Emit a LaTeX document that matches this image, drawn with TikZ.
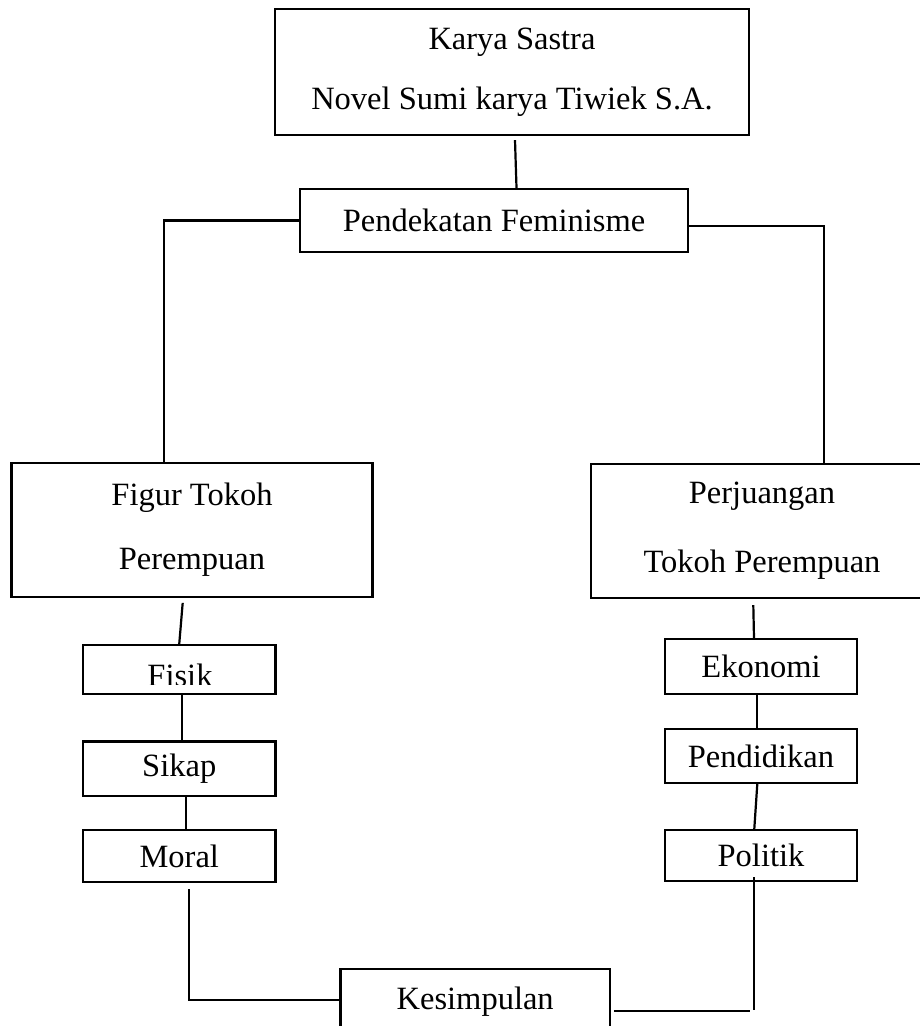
\documentclass[tikz,border=0pt]{standalone}
\usepackage{fontspec}
\setmainfont{Liberation Serif}
\begin{document}
\begin{tikzpicture}[x=1pt, y=-1pt, font=\fontsize{32.5}{60}\selectfont,
    kotak/.style={draw, line width=2.3pt, inner sep=0pt, align=center},
    garis/.style={line width=2.2pt}]
            \useasboundingbox (0, 0) rectangle (920, 1026);
            % kotak-kotak
            \node[kotak, minimum width=474pt, minimum height=126pt] (karya) at (512, 72) {Karya Sastra\\Novel Sumi karya Tiwiek S.A.};
            \node[kotak, minimum width=388pt, minimum height=63pt] (pendekatan) at (494, 220.5) {Pendekatan Feminisme};
            \node[kotak, minimum width=361pt, minimum height=134pt] (figur) at (192, 530) {Figur Tokoh\\[4pt]Perempuan};
            \node[kotak, minimum width=342pt, minimum height=134pt] (perjuangan) at (762, 531) {Perjuangan\\[9pt]Tokoh Perempuan};
            \node[kotak, minimum width=192.5pt, minimum height=49pt] (fisik) at (179.25, 669.5) {};
            \begin{scope}
                \clip (83, 640) rectangle (276, 684.5);
                \node[anchor=base] (fisiktext) at (180, 686) {Fisik};
            \end{scope}
            \node[kotak, minimum width=192.5pt, minimum height=54.5pt] (sikap) at (179.25, 768.75) {Sikap};
            \node[kotak, minimum width=192.5pt, minimum height=51.7pt] (moral) at (179.25, 856) {Moral};
            \node[kotak, minimum width=192.3pt, minimum height=55pt] (ekonomi) at (761, 666.5) {Ekonomi};
            \node[kotak, minimum width=192.3pt, minimum height=53.4pt] (pendidikan) at (761, 756) {Pendidikan};
            \node[kotak, minimum width=192.3pt, minimum height=50.7pt] (politik) at (761, 855.4) {Politik};
            \node[kotak, minimum width=269.7pt, minimum height=65pt] (kesimpulan) at (475.2, 1001.5) {Kesimpulan};
            % garis penghubung
            \draw[garis] ([xshift=3pt, yshift=-4pt]karya.south) -- ([xshift=22.5pt]pendekatan.north);
            \draw[garis] (pendekatan.west) -| ([xshift=-28.3pt]figur.north);
            \draw[garis] ([yshift=-5.5pt]pendekatan.east) -| ([xshift=62.3pt]perjuangan.north);
            \draw[garis] ([xshift=-9.3pt, yshift=-4.7pt]figur.south) -- (fisik.north);
            \draw[garis] ([xshift=3pt]fisik.south) -- ([xshift=3pt]sikap.north);
            \draw[garis] ([xshift=6.5pt]sikap.south) -- ([xshift=6.5pt]moral.north);
            \draw[garis] ([xshift=10pt, yshift=-6pt]moral.south) |- ([yshift=1.5pt]kesimpulan.west);
            \draw[garis] ([xshift=-8.7pt, yshift=-6pt]perjuangan.south) -- ([xshift=-7pt]ekonomi.north);
            \draw[garis] ([xshift=-3.7pt]ekonomi.south) -- ([xshift=-3.7pt]pendidikan.north);
            \draw[garis] ([xshift=-3.7pt]pendidikan.south) -- ([xshift=-6.7pt]politik.north);
            \draw[garis] ([xshift=-7.3pt, yshift=4.7pt]politik.south) -- ++(0, 133);
            \draw[garis] ([xshift=3pt, yshift=-9.2pt]kesimpulan.east) -- ++(136, 0);
        \end{tikzpicture}
\end{document}
